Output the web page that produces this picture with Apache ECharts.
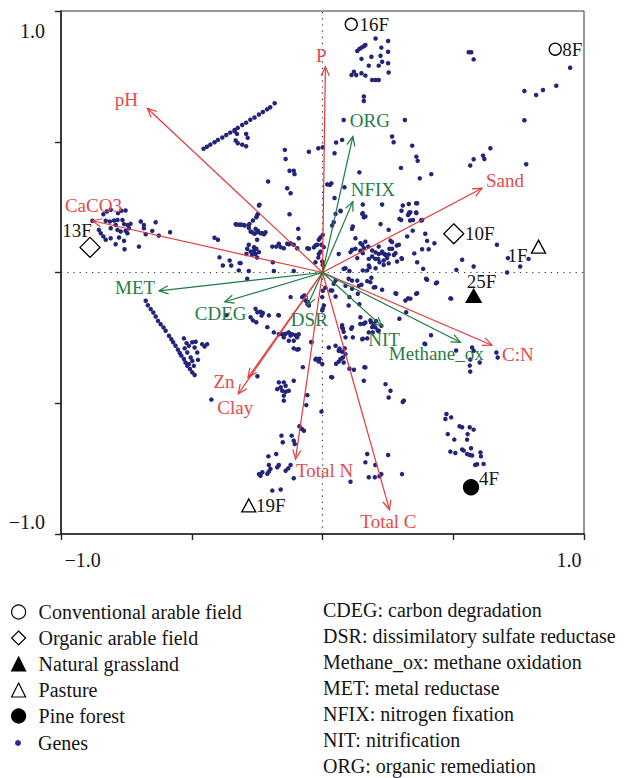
<!DOCTYPE html>
<html><head><meta charset="utf-8">
<script src="https://cdn.jsdelivr.net/npm/echarts@6/dist/echarts.min.js"></script>
<style>html,body{margin:0;padding:0;background:#fff}#c{width:624px;height:778px}</style>
</head><body><div id="c"></div>
<script>
// ---------------- DATA ----------------
const envNames = ['P','pH','CaCO3','Sand','C:N','Total C','Total N','Zn','Clay'];
const envX = [0.011,-0.670,-0.880,0.610,0.648,0.256,-0.103,-0.285,-0.322];
const envY = [0.787,0.628,0.198,0.322,-0.278,-0.907,-0.713,-0.402,-0.464];

const funcNames = ['ORG','NFIX','MET','CDEG','DSR','NIT','Methane_ox'];
const funcX = [0.116,0.116,-0.625,-0.374,-0.058,0.228,0.527];
const funcY = [0.520,0.271,-0.070,-0.112,-0.127,-0.206,-0.267];

const siteNames = ['16F','8F','13F','10F','1F','25F','4F','19F'];
const siteX = [0.110,0.890,-0.889,0.502,0.826,0.578,0.568,-0.282];
const siteY = [0.949,0.854,0.096,0.148,0.099,-0.089,-0.821,-0.891];
const siteGroup = ['Conventional arable field','Conventional arable field','Organic arable field','Organic arable field','Pasture','Natural grassland','Pine forest','Pasture'];
const groupNames = ['Conventional arable field','Organic arable field','Natural grassland','Pasture','Pine forest'];
const genesName = 'Genes';

const axisTickLabels = ['\u22121.0','1.0'];

const functionNotes = [
  'CDEG: carbon degradation',
  'DSR: dissimilatory sulfate reductase',
  'Methane_ox: methane oxidation',
  'MET: metal reductase',
  'NFIX: nitrogen fixation',
  'NIT: nitrification',
  'ORG: organic remediation'
];

const geneScores = [
// CaCO3 cluster
[-0.880,0.198],[-0.838,0.223],[-0.825,0.233],[-0.810,0.240],[-0.782,0.227],[-0.769,0.236],[-0.753,0.237],
[-0.829,0.198],[-0.813,0.195],[-0.797,0.199],[-0.784,0.201],[-0.765,0.201],[-0.791,0.182],[-0.759,0.185],
[-0.746,0.182],[-0.734,0.186],[-0.695,0.195],[-0.683,0.182],[-0.638,0.192],[-0.855,0.163],[-0.848,0.150],
[-0.838,0.138],[-0.829,0.125],[-0.810,0.169],[-0.784,0.163],[-0.772,0.157],[-0.753,0.159],[-0.740,0.169],
[-0.746,0.150],[-0.676,0.146],[-0.651,0.159],[-0.626,0.141],[-0.583,0.154],[-0.810,0.131],[-0.778,0.134],
[-0.759,0.121],[-0.791,0.108],[-0.757,0.089],[-0.702,0.099],[-0.683,0.169],
// pH-direction streak
[-0.455,0.473],[-0.442,0.481],[-0.429,0.489],[-0.413,0.498],[-0.400,0.507],[-0.383,0.516],[-0.368,0.526],
[-0.353,0.535],[-0.336,0.545],[-0.324,0.553],[-0.307,0.564],[-0.292,0.573],[-0.276,0.584],[-0.260,0.593],
[-0.243,0.604],[-0.228,0.614],[-0.212,0.624],[-0.200,0.632],[-0.183,0.647],
[-0.336,0.540],[-0.327,0.530],[-0.332,0.505],[-0.324,0.494],[-0.307,0.489],[-0.292,0.483],[-0.286,0.515],[-0.292,0.530],
// MET streak and cluster
[-0.676,-0.108],[-0.668,-0.125],[-0.657,-0.140],[-0.647,-0.153],[-0.638,-0.168],[-0.629,-0.185],[-0.619,-0.198],
[-0.608,-0.210],[-0.600,-0.223],[-0.587,-0.242],[-0.578,-0.255],[-0.571,-0.267],[-0.562,-0.280],[-0.553,-0.295],
[-0.546,-0.308],[-0.540,-0.318],[-0.530,-0.331],[-0.524,-0.344],[-0.517,-0.357],[-0.507,-0.369],[-0.498,-0.382],[-0.489,-0.392],
[-0.530,-0.252],[-0.520,-0.270],[-0.511,-0.280],[-0.527,-0.290],[-0.498,-0.267],[-0.485,-0.265],[-0.489,-0.287],
[-0.479,-0.306],[-0.460,-0.274],[-0.451,-0.283],[-0.441,-0.274],[-0.517,-0.306],[-0.504,-0.325],[-0.498,-0.338],
[-0.476,-0.334],[-0.492,-0.357],[-0.511,-0.350],[-0.425,-0.486],[-0.367,-0.163],
// top cluster (near 16F)
[0.203,0.895],[0.133,0.847],[0.141,0.855],[0.149,0.860],[0.158,0.865],[0.164,0.870],[0.225,0.860],[0.251,0.885],
[0.251,0.844],[0.187,0.825],[0.222,0.829],[0.228,0.806],[0.251,0.800],[0.149,0.817],[0.177,0.791],[0.215,0.791],
[0.120,0.768],[0.111,0.755],[0.129,0.755],[0.149,0.762],[0.164,0.753],[0.190,0.736],[0.203,0.736],[0.215,0.736],
[0.253,0.765],[0.158,0.673],[0.158,0.656],
// upper middle
[0.081,0.583],[0.315,0.583],[0.266,0.520],[0.272,0.498],[0.075,0.507],[0.052,0.497],[-0.016,0.475],[0.001,0.479],
[-0.052,0.462],[0.046,0.456],[-0.144,0.469],[-0.141,0.434],[-0.126,0.389],[-0.110,0.389],[-0.107,0.376],[-0.208,0.348],
[-0.135,0.322],[-0.122,0.303],[0.018,0.337],[0.034,0.341],[0.028,0.335],[0.141,0.383],[0.300,0.400],[0.327,0.220],
[0.302,0.236],[0.164,0.214],[0.154,0.227],[0.069,0.236],[-0.126,0.223],[-0.241,0.259],[0.222,0.185],[0.253,0.163],
[0.116,0.176],[-0.093,0.167],[-0.250,0.218],[0.084,0.326],[0.046,0.285],[0.154,0.260],[0.307,0.256],[0.330,0.262],
[0.358,0.265],[0.332,0.230],[0.358,0.230],[0.377,0.199],[0.294,0.205],[0.335,0.199],[0.345,0.160],[0.260,0.122],
[0.284,0.103],[0.256,0.091],[0.237,0.071],
// left of centre, above axis
[-0.332,0.185],[-0.313,0.182],[-0.301,0.182],[-0.282,0.182],[-0.275,0.157],[-0.269,0.154],[-0.250,0.154],[-0.230,0.150],
[-0.224,0.146],[-0.250,0.125],[-0.282,0.106],[-0.288,0.091],[-0.275,0.080],[-0.262,0.083],[-0.243,0.078],[-0.269,0.068],
[-0.250,0.057],[-0.192,0.099],[-0.177,0.099],[-0.160,0.097],[-0.148,0.093],[-0.129,0.108],[-0.122,0.112],[-0.110,0.106],
[-0.097,0.093],[-0.091,0.131],[-0.058,0.093],[-0.033,0.096],[-0.020,0.106],[-0.014,0.125],[-0.008,0.134],[0.001,0.144],
[-0.004,0.106],[-0.008,0.080],[-0.016,0.057],[-0.001,0.042],[0.001,0.029],[-0.282,0.006],[-0.186,0.006],[-0.110,0.006],
[-0.243,0.256],[-0.282,0.171],[-0.256,0.167],[-0.237,0.150],[-0.218,0.154],[-0.262,0.097],[-0.253,0.091],[-0.256,0.071],
[-0.313,0.036],[-0.320,0.008],[-0.167,0.110],[-0.135,0.110],[-0.052,0.091],[-0.027,0.103],[0.005,0.097],[-0.014,0.071],
[-0.027,0.039],[-0.400,0.125],[-0.413,0.133],[-0.394,0.058],[-0.355,0.046],[-0.349,0.027],[-0.291,0.071],[-0.260,0.148],
[-0.247,0.160],[-0.279,0.186],[-0.266,0.199],[-0.253,0.211],[-0.247,0.224],[-0.298,0.180],[-0.330,0.183],[-0.320,0.183],
[-0.311,0.183],[-0.190,0.039],[-0.381,0.027],[-0.317,0.036],
// right of centre, above axis
[0.050,0.224],[0.069,0.234],[0.037,0.180],[0.043,0.192],[0.113,0.167],[0.152,0.224],[0.158,0.211],[0.228,0.260],
[0.301,0.201],[0.330,0.224],[0.062,0.071],[0.107,0.078],[0.126,0.091],[0.145,0.112],[0.158,0.094],[0.190,0.084],
[0.215,0.071],[0.228,0.074],[0.253,0.069],[0.279,0.074],[0.304,0.052],[0.202,0.052],[0.234,0.046],[0.177,0.027],
[0.171,0.008],[0.266,0.116],[0.324,0.138],[0.126,0.131],[0.152,0.106],[0.164,0.118],[0.175,0.099],[0.113,0.087],
[0.145,0.083],[0.154,0.074],[0.133,0.055],[0.177,0.052],[0.190,0.061],[0.203,0.077],[0.215,0.099],[0.228,0.080],
[0.241,0.067],[0.213,0.052],[0.218,0.039],[0.234,0.029],[0.253,0.035],[0.247,0.055],[0.266,0.091],[0.292,0.106],
[0.273,0.067],[0.302,0.055],[0.285,0.042],[0.203,0.016],[0.088,0.016],[0.103,0.006],[0.180,0.020],[0.154,0.008],
// upper right (towards 8F)
[0.559,0.842],[0.569,0.842],[0.578,0.815],[0.947,0.783],[0.894,0.714],[0.843,0.698],[0.817,0.679],[0.772,0.694],
[0.772,0.582],[0.642,0.475],[0.614,0.447],[0.619,0.434],[0.578,0.433],[0.565,0.409],[0.779,0.414],[0.343,0.485],
[0.359,0.443],[0.364,0.427],[0.372,0.360],[0.416,0.376],[0.362,0.265],[0.336,0.230],[0.359,0.227],[0.346,0.201],
[0.381,0.201],[0.393,0.148],[0.400,0.121],[0.428,0.112],[0.381,0.089],[0.406,0.089],[0.351,0.073],[0.362,0.039],
[0.385,0.014],[0.534,0.049],[0.578,0.023],[0.512,0.010],[0.667,0.106],[0.709,0.055],[0.756,0.023],[0.788,0.052],
// below axis, centre
[0.081,0.014],[0.100,-0.024],[0.113,-0.031],[0.133,-0.031],[0.149,-0.047],[0.171,-0.033],[0.183,-0.037],[0.187,-0.020],
[0.202,-0.056],[0.228,-0.066],[0.317,-0.107],[0.336,-0.100],[0.113,-0.062],[0.050,-0.031],[0.037,-0.069],[0.050,-0.092],
[0.011,-0.058],[0.031,-0.069],[0.043,-0.043],[-0.001,-0.094],[0.005,-0.126],[-0.001,-0.145],[0.100,-0.126],[0.145,-0.171],
[0.158,-0.196],[0.183,-0.183],[0.190,-0.209],[0.113,-0.209],[0.075,-0.202],[-0.078,-0.094],[-0.065,-0.107],[-0.058,-0.120],
[-0.052,-0.126],[-0.122,-0.094],[-0.167,-0.164],[-0.211,-0.209],[-0.141,-0.234],[-0.122,-0.241],[-0.256,-0.139],[-0.249,-0.152],
[-0.205,-0.164],[-0.275,-0.171],[-0.288,-0.024],
[0.001,-0.070],[0.088,-0.051],[0.139,-0.051],[0.196,-0.057],[0.141,-0.121],[0.279,-0.079],[0.327,-0.099],
[-0.237,-0.150],[-0.233,-0.165],[-0.169,-0.163],[-0.186,-0.229],[-0.167,-0.236],[-0.154,-0.236],[-0.129,-0.229],[-0.116,-0.236],
[-0.103,-0.240],[-0.097,-0.248],[-0.091,-0.236],[-0.148,-0.248],[-0.129,-0.261],[-0.110,-0.261],[-0.097,-0.295],[-0.110,-0.290],
[-0.091,-0.293],[-0.042,-0.267],[0.001,-0.138],[0.075,-0.210],[0.081,-0.227],[0.088,-0.248],[0.116,-0.248],[0.145,-0.197],
[0.164,-0.191],[0.196,-0.197],[0.202,-0.210],[0.192,-0.229],[0.215,-0.223],[0.225,-0.204],[0.152,-0.255],[0.171,-0.252],
[0.177,-0.229],[0.024,-0.287],[0.050,-0.280],[0.062,-0.299],[0.075,-0.303],[0.085,-0.290],[0.078,-0.325],[0.069,-0.331],
[0.081,-0.344],[0.062,-0.341],[0.088,-0.312],[-0.027,-0.333],[-0.014,-0.341],[-0.001,-0.350],[0.164,-0.363],[0.158,-0.414],
[0.120,-0.372],[0.037,-0.401],[0.241,-0.427],[0.260,-0.452],[0.253,-0.478],[0.311,-0.490],
[-0.069,-0.088],[-0.056,-0.113],[-0.266,-0.183],[-0.253,-0.190],[-0.228,-0.155],[-0.043,-0.266],[-0.024,-0.330],[-0.075,-0.362],
// lower middle clusters
[-0.167,-0.420],[-0.148,-0.420],[-0.141,-0.433],[-0.160,-0.439],[-0.173,-0.446],[-0.154,-0.452],[-0.141,-0.456],[-0.148,-0.471],
[-0.148,-0.490],[-0.129,-0.452],[-0.110,-0.414],[-0.249,-0.397],[-0.058,-0.469],[-0.062,-0.507],[-0.004,-0.532],[-0.088,-0.588],
[-0.078,-0.599],[-0.071,-0.605],[-0.157,-0.624],[-0.118,-0.624],[-0.152,-0.649],[-0.110,-0.643],[-0.106,-0.656],[-0.207,-0.703],
[-0.177,-0.694],[-0.122,-0.736],[-0.131,-0.749],[-0.141,-0.758],[-0.167,-0.736],[-0.173,-0.745],[-0.205,-0.736],[-0.205,-0.761],
[-0.211,-0.770],[-0.230,-0.764],[-0.237,-0.777],[-0.243,-0.771],[-0.199,-0.751],[-0.192,-0.834],[-0.160,-0.830],[-0.110,-0.787],
[0.171,-0.694],[0.251,-0.698],[0.164,-0.726],[0.202,-0.736],[0.177,-0.783],[0.200,-0.783],[0.218,-0.779],[0.225,-0.771],
[0.107,-0.800],[0.304,-0.771],
// right side, below axis
[0.135,-0.081],[0.103,-0.094],[0.282,-0.081],[0.358,-0.081],[0.320,-0.152],[0.294,-0.177],[0.390,-0.272],[0.511,-0.298],
[0.492,-0.100],[0.434,-0.041],[0.396,-0.024],[0.186,-0.190],[0.211,-0.222],[0.205,-0.186],[0.078,-0.215],[0.110,-0.215],
[0.154,-0.253],[0.065,-0.291],[0.052,-0.349],[-0.011,-0.330],[0.033,-0.400],[0.103,-0.368],[0.160,-0.362],[0.307,-0.495],
[0.400,-0.028],[0.438,-0.038],[0.362,-0.079],[0.489,-0.099],[0.706,0.000],[0.415,-0.240],[0.393,-0.274],[0.572,-0.287],
[0.578,-0.299],[0.565,-0.333],[0.601,-0.344],[0.563,-0.356],[0.565,-0.379],[0.665,-0.306],[0.670,-0.325],
// cluster above 4F
[0.474,-0.541],[0.492,-0.554],[0.470,-0.560],[0.524,-0.588],[0.534,-0.592],[0.563,-0.592],[0.578,-0.601],[0.555,-0.618],
[0.479,-0.618],[0.504,-0.639],[0.553,-0.639],[0.568,-0.672],[0.534,-0.677],[0.540,-0.681],[0.489,-0.685],[0.508,-0.690],
[0.553,-0.694],[0.563,-0.698],[0.572,-0.700],[0.604,-0.688],[0.606,-0.703],[0.584,-0.736],[0.591,-0.733],[0.616,-0.732]
];

// ---------------- STYLE / LAYOUT ----------------
const FONT = 'Liberation Serif';
const RED = '#e23a3a', RED_TXT = '#e34b4b', GREEN = '#1c7a3c', GREEN_TXT = '#2a7b47';
const TXT = '#151515';
const xLabelAt = [-0.917, 0.943];
const yLabelAt = [-0.954, 0.925];
const envLabelOffset = {'P':[-4,-11],'pH':[-21,-9],'CaCO3':[1,-15],'Sand':[23,-8],'C:N':[26,9],'Total C':[-1,12],'Total N':[29,12],'Zn':[-24,4],'Clay':[-3,14]};
const funcLabelOffset = {'ORG':[17,-16],'NFIX':[20,-12],'MET':[-24,-3],'CDEG':[-4,12],'DSR':[2,14],'NIT':[2,13],'Methane_ox':[-24,11]};
const siteLabelOffset = {'16F':[23,0],'8F':[17,0],'13F':[-13,-17],'10F':[26,0],'1F':[-21,9],'25F':[8,-14],'4F':[18,-9],'19F':[22,0]};
const groupStyle = {
  'Conventional arable field': {symbol:'circle', size:12, fill:'#fff'},
  'Organic arable field': {symbol:'diamond', size:20, fill:'#fff'},
  'Natural grassland': {symbol:'triangle', size:[15,13], fill:'#000'},
  'Pasture': {symbol:'triangle', size:[14,13], fill:'#fff'},
  'Pine forest': {symbol:'circle', size:15, fill:'#000'}
};
const GENE_COLOR = '#23257a';

function arrowSeries(names, xs, ys, lineColor, textColor, offsets) {
  return {
    type: 'custom', coordinateSystem: 'cartesian2d', z: 5, silent: true,
    data: names.map((n, i) => [xs[i], ys[i]]),
    renderItem(params, api) {
      const i = params.dataIndex;
      const o = api.coord([0, 0]);
      const t = api.coord([api.value(0), api.value(1)]);
      const ang = Math.atan2(t[1] - o[1], t[0] - o[0]);
      const L = 10, A = 0.42;
      const h1 = [t[0] - L * Math.cos(ang - A), t[1] - L * Math.sin(ang - A)];
      const h2 = [t[0] - L * Math.cos(ang + A), t[1] - L * Math.sin(ang + A)];
      const off = offsets[names[i]];
      return { type: 'group', children: [
        { type: 'line', shape: {x1: o[0], y1: o[1], x2: t[0], y2: t[1]}, style: {stroke: lineColor, lineWidth: 1.2} },
        { type: 'polyline', shape: {points: [h1, t, h2]}, style: {stroke: lineColor, lineWidth: 1.2, fill: 'none'} },
        { type: 'text', x: t[0] + off[0], y: t[1] + off[1], z2: 10,
          style: {text: names[i], fill: textColor, fontSize: 19, fontFamily: FONT, align: 'center', verticalAlign: 'middle'} }
      ]};
    }
  };
}

const siteSeries = groupNames.map(g => {
  const st = groupStyle[g];
  return {
    name: g, type: 'scatter', z: 6, symbol: st.symbol, symbolSize: st.size,
    itemStyle: {color: st.fill, borderColor: '#000', borderWidth: 1.3, opacity: 1},
    label: {show: true, position: 'inside', formatter: '{b}', color: TXT, fontSize: 19, fontFamily: FONT,
            align: 'center', verticalAlign: 'middle'},
    data: siteNames.map((n, i) => ({n, i})).filter(d => siteGroup[d.i] === g).map(d => ({
      name: d.n, value: [siteX[d.i], siteY[d.i]], label: {offset: siteLabelOffset[d.n]}
    }))
  };
});

const option = {
  animation: false,
  backgroundColor: '#fff',
  grid: {left: 61, right: 40, top: 11, bottom: 244, show: true, borderColor: '#333', borderWidth: 1, containLabel: false, outerBoundsMode: 'none'},
  xAxis: {
    type: 'value', min: -1, max: 1, interval: 0.5,
    axisLine: {show: true, onZero: false, lineStyle: {color: '#222', width: 1.6}},
    axisTick: {show: true, inside: false, length: 6, lineStyle: {color: '#222', width: 1.4}},
    axisLabel: {customValues: xLabelAt, formatter: v => (v < 0 ? axisTickLabels[0] : axisTickLabels[1]),
                fontSize: 20, fontFamily: FONT, color: TXT, margin: 16},
    splitLine: {show: false}
  },
  yAxis: {
    type: 'value', min: -1, max: 1, interval: 0.5,
    axisLine: {show: true, onZero: false, lineStyle: {color: '#222', width: 1.6}},
    axisTick: {show: true, inside: false, length: 6, lineStyle: {color: '#222', width: 1.4}},
    axisLabel: {customValues: yLabelAt, formatter: v => (v < 0 ? axisTickLabels[0] : axisTickLabels[1]),
                fontSize: 20, fontFamily: FONT, color: TXT, margin: 16},
    splitLine: {show: false}
  },
  title: {
    left: 318, top: 592, text: functionNotes.join('\n'),
    textStyle: {fontFamily: FONT, fontSize: 20, fontWeight: 'normal', color: TXT, lineHeight: 26}
  },
  legend: [{
    left: 6, top: 597, orient: 'vertical', itemWidth: 14, itemHeight: 14, itemGap: 6,
    selectedMode: false,
    textStyle: {fontFamily: FONT, fontSize: 20, color: TXT, lineHeight: 20, padding: [0, 0, 0, 8]},
    data: groupNames.map(n => ({name: n, icon: groupStyle[n].symbol,
      itemStyle: {color: groupStyle[n].fill, borderColor: '#000', borderWidth: 1.2}}))
  }, {
    left: 10, top: 728, orient: 'vertical', itemWidth: 6, itemHeight: 6,
    selectedMode: false,
    textStyle: {fontFamily: FONT, fontSize: 20, color: TXT, lineHeight: 20, padding: [0, 0, 0, 12]},
    data: [{name: genesName, icon: 'circle', itemStyle: {color: '#2a2c94', borderWidth: 0}}]
  }],
  series: [
    {
      name: genesName, type: 'scatter', z: 2, symbol: 'circle', symbolSize: 4.5,
      itemStyle: {color: GENE_COLOR, opacity: 1},
      data: geneScores,
      markLine: {
        silent: true, symbol: 'none', label: {show: false},
        lineStyle: {type: [1.2, 5], color: '#333', width: 1.2},
        data: [{xAxis: 0}, {yAxis: 0}]
      }
    },
    arrowSeries(envNames, envX, envY, RED, RED_TXT, envLabelOffset),
    arrowSeries(funcNames, funcX, funcY, GREEN, GREEN_TXT, funcLabelOffset),
    ...siteSeries
  ]
};

const chart = echarts.init(document.getElementById('c'), null, {renderer: 'svg'});
chart.setOption(option);
</script>
</body></html>
